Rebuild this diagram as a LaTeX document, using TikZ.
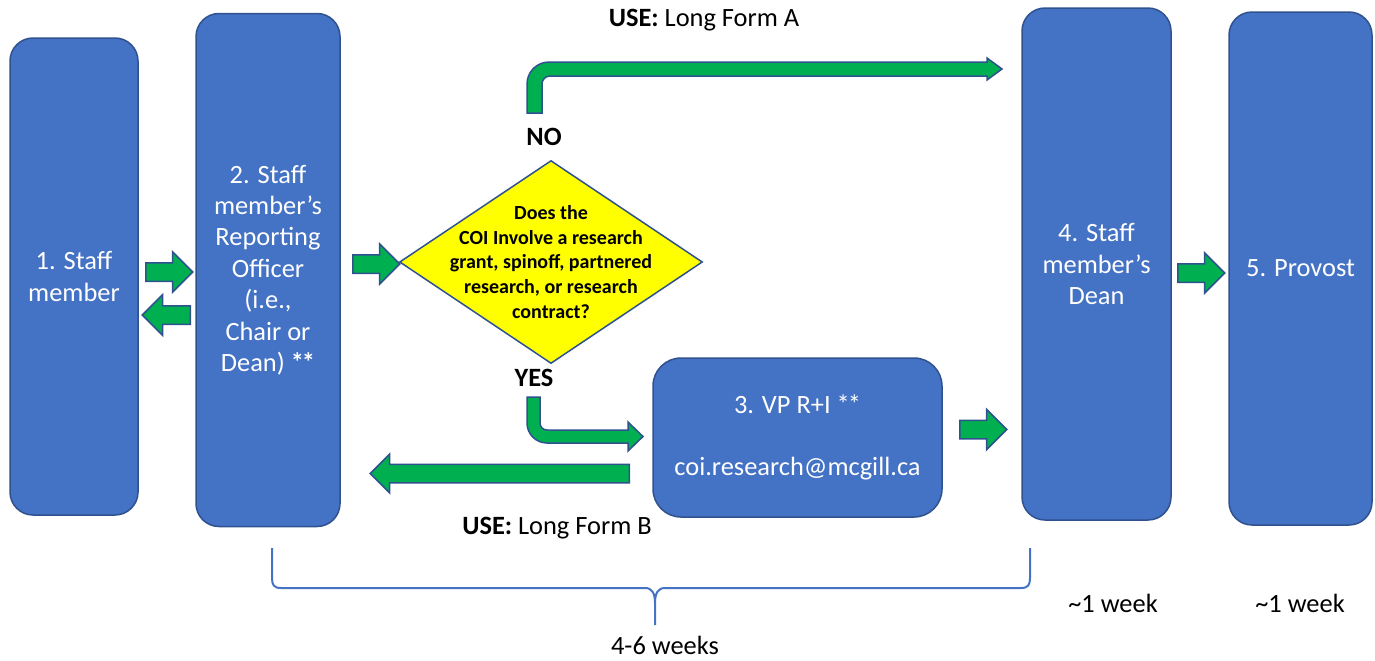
\documentclass[tikz,border=0pt]{standalone}
\usepackage{fontspec}
\setmainfont{Carlito}
\usetikzlibrary{shapes.geometric,shapes.arrows}
\definecolor{boxblue}{HTML}{4472C4}
\definecolor{edgeblue}{HTML}{2F528F}
\definecolor{arrgreen}{HTML}{00B050}
\definecolor{askyellow}{HTML}{FFFF00}
\newcommand{\stars}{*\kern-1pt*}
\tikzset{
  % steg
  stage/.style={rectangle,rounded corners=11.5pt,draw=edgeblue,fill=boxblue,line width=0.75pt,
                text=white,align=center,inner sep=0pt,font=\fontsize{13.2}{15.7}\selectfont},
  ask/.style={diamond,draw=edgeblue,fill=askyellow,line width=0.75pt,inner sep=0pt,
              minimum width=151.5pt,minimum height=101.5pt},
  asktxt/.style={align=center,inner sep=0pt,font=\fontsize{10}{12.4}\selectfont\bfseries},
  % pilar
  barr/.style={single arrow,draw=edgeblue,fill=arrgreen,line width=0.75pt,inner xsep=0pt,
               inner ysep=4.25pt,single arrow head extend=5.5pt,anchor=tail},
  bentarr/.style={draw=edgeblue,fill=arrgreen,line width=0.75pt},
  % texter
  lbl/.style={inner sep=0pt,font=\fontsize{13.2}{15.5}\selectfont},
  brace/.style={draw=boxblue,line width=1pt},
}
\begin{document}
\begin{tikzpicture}[x=0.5pt,y=-0.5pt]
  \useasboundingbox (0,0) rectangle (1375,660);
  \node[stage,minimum width=64pt,minimum height=238.5pt] (s1) at (74,276.5) {1. Staff\\member};
  \node[stage,minimum width=72pt,minimum height=256.5pt] (s2) at (268,270)
    {2. Staff\\member’s\\Reporting\\Officer\\(i.e.,\\Chair or\\Dean) \textbf{\stars}};
  \node[stage,rounded corners=14pt,minimum width=144.5pt,minimum height=79.5pt] (s3) at (797.5,437.5)
    {3. VP R+I \stars\\[15pt]coi.research@mcgill.ca};
  \node[stage,minimum width=74.5pt,minimum height=256pt] (s4) at (1096.5,264) {4. Staff\\member’s\\Dean};
  \node[stage,minimum width=71.5pt,minimum height=256.5pt] (s5) at (1300.5,268.5) {5. Provost};
  \node[ask,label={[asktxt]center:Does the\\COI Involve a research\\grant, spinoff, partnered\\research, or research\\contract?}] (q) at (551,262) {};

  \node[barr,minimum height=23.5pt] (a12) at (145,272) {};
  \node[barr,minimum height=24pt,shape border rotate=180] (a21) at (191,315) {};
  \node[barr,minimum height=23.5pt] (a2q) at (352,264) {};
  \node[barr,minimum height=23.5pt] (a34) at (959,429.5) {};
  \node[barr,minimum height=23.5pt] (a45) at (1177,273) {};
  \node[barr,minimum height=129.5pt,shape border rotate=180,single arrow head extend=5pt] (a32) at (630,473.5) {};

  \draw[bentarr] (527,113) -- (527,84) .. controls (527,71.85) and (536.85,62) .. (549,62) -- (987,62)
    -- (987,58) -- (1002,69) -- (987,80) -- (987,76) -- (550,76) .. controls (545.58,76) and (542,79.58) .. (542,84)
    -- (542,113) -- cycle;
  \draw[bentarr] (527,397) -- (527,423) .. controls (527,434.05) and (535.95,443) .. (547,443) -- (628,443)
    -- (628,451) -- (643,436.5) -- (628,422) -- (628,430) -- (547,430) .. controls (543.13,430) and (540,426.87) .. (540,423)
    -- (540,397) -- cycle;

  \node[lbl] (useA) at (704,20) {\textbf{USE:} Long Form A};
  \node[lbl,font=\fontsize{13.2}{15.5}\selectfont\bfseries] (no) at (544,137) {NO};
  \node[lbl,font=\fontsize{13.2}{15.5}\selectfont\bfseries] (yes) at (534,378) {YES};
  \node[lbl] (useB) at (557,528) {\textbf{USE:} Long Form B};

  \draw[brace] (272,548) -- (272,578) .. controls (272,585) and (274,588) .. (281,588) -- (645,588)
    .. controls (652,588) and (655,593) .. (655,603) .. controls (655,593) and (658,588) .. (665,588)
    -- (1021,588) .. controls (1028,588) and (1030,585) .. (1030,578) -- (1030,548)
    (655,603) -- (655,625);
  \node[lbl] (t1) at (665,645) {4-6 weeks};
  \node[lbl] (t2) at (1113,603) {\textasciitilde1 week};
  \node[lbl] (t3) at (1300,603) {\textasciitilde1 week};
\end{tikzpicture}
\end{document}
